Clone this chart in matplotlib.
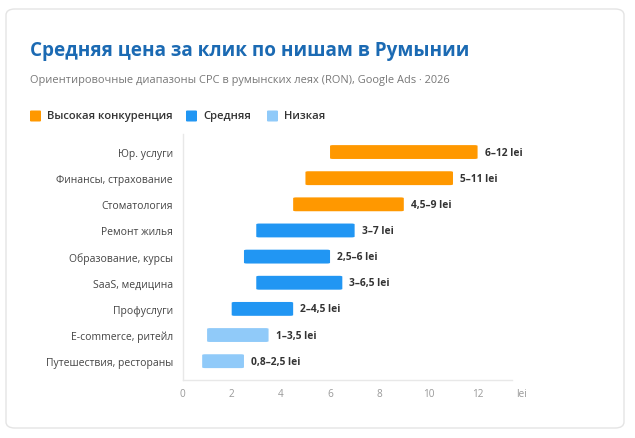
import matplotlib
matplotlib.use("Agg")
import matplotlib.pyplot as plt
from matplotlib.patches import FancyBboxPatch

categories = ["Юр. услуги", "Финансы, страхование", "Стоматология", "Ремонт жилья",
              "Образование, курсы", "SaaS, медицина", "Профуслуги", "E-commerce, ритейл",
              "Путешествия, рестораны"]
low = [6, 5, 4.5, 3, 2.5, 3, 2, 1, 0.8]
high = [12, 11, 9, 7, 6, 6.5, 4.5, 3.5, 2.5]
levels = ["high", "high", "high", "mid", "mid", "mid", "mid", "low", "low"]
value_labels = ["6–12 lei", "5–11 lei", "4,5–9 lei", "3–7 lei", "2,5–6 lei",
                "3–6,5 lei", "2–4,5 lei", "1–3,5 lei", "0,8–2,5 lei"]
xticks = [0, 2, 4, 6, 8, 10, 12]
legend_labels = ["Высокая конкуренция", "Средняя", "Низкая"]

colors = {"high": "#FF9800", "mid": "#2196F3", "low": "#90CAF9"}

plt.rcParams['font.family'] = ['Open Sans', 'DejaVu Sans']

W, H = 635, 439
fig = plt.figure(figsize=(W / 100, H / 100), dpi=100)
fig.patch.set_facecolor("white")

# card
card = FancyBboxPatch((6 / W, 10 / H), 618 / W, 419 / H,
                      boxstyle="round,pad=0,rounding_size=0.014",
                      transform=fig.transFigure, facecolor="white",
                      edgecolor="#e4e4e4", linewidth=1.0, zorder=-5)
fig.patches.append(card)

fig.text(30 / W, 1 - 51 / H, "Средняя цена за клик по нишам в Румынии",
         fontsize=13.6, fontweight="bold", color="#1b6ab3", va="center", ha="left")
fig.text(30 / W, 1 - 81 / H,
         "Ориентировочные диапазоны CPC в румынских леях (RON), Google Ads · 2026",
         fontsize=7.95, color="#777777", va="center", ha="left")

# legend
legend_x = [30, 186, 267]
for lab, key, x0 in zip(legend_labels, ["high", "mid", "low"], legend_x):
    sq = FancyBboxPatch((x0 / W, (H - 122.5) / H), 11 / W, 11 / H,
                        boxstyle="round,pad=0,rounding_size=0.002",
                        transform=fig.transFigure, facecolor=colors[key],
                        edgecolor="none", zorder=1)
    fig.patches.append(sq)
    fig.text((x0 + 17) / W, 1 - 116.5 / H, lab, fontsize=8.1, color="#333333",
             va="center", ha="left", fontweight="semibold")

ax = fig.add_axes([182.5 / W, 1 - 381 / H, (512 - 182.5) / W, (381 - 135) / H])
ax.set_facecolor("none")
y = list(range(len(categories)))
bar_h = 0.53
for i in y:
    c = colors[levels[i]]
    w = high[i] - low[i]
    p = FancyBboxPatch((low[i], i - bar_h / 2), w, bar_h,
                       boxstyle="round,pad=0,rounding_size=0.12",
                       mutation_aspect=1 / 4.0,
                       facecolor=c, edgecolor="none", zorder=3)
    ax.add_patch(p)
    ax.annotate(value_labels[i], (high[i], i), xytext=(5, 0), textcoords="offset points",
                va="center", ha="left", fontsize=7.4, fontweight="bold", color="#333333")

ax.set_xlim(0, 13.4)
ax.set_ylim(8.72, -0.69)
ax.set_yticks(y)
ax.set_yticklabels(categories, fontsize=7.5, color="#444444")
ax.set_xticks(xticks)
ax.set_xticklabels([str(t) for t in xticks], fontsize=7.2, color="#999999")
ax.tick_params(axis="both", length=0)
ax.tick_params(axis="y", pad=7)
ax.tick_params(axis="x", pad=6)
for s in ["top", "right"]:
    ax.spines[s].set_visible(False)
for s in ["left", "bottom"]:
    ax.spines[s].set_color("#e8e8e8")
    ax.spines[s].set_linewidth(1.0)
ax.annotate("lei", xy=(1.0, 0.0), xycoords="axes fraction", xytext=(7, -6),
            textcoords="offset points", fontsize=7.2, color="#999999",
            va="top", ha="center", annotation_clip=False)

fig.savefig("out.png", dpi=100, facecolor="white")
